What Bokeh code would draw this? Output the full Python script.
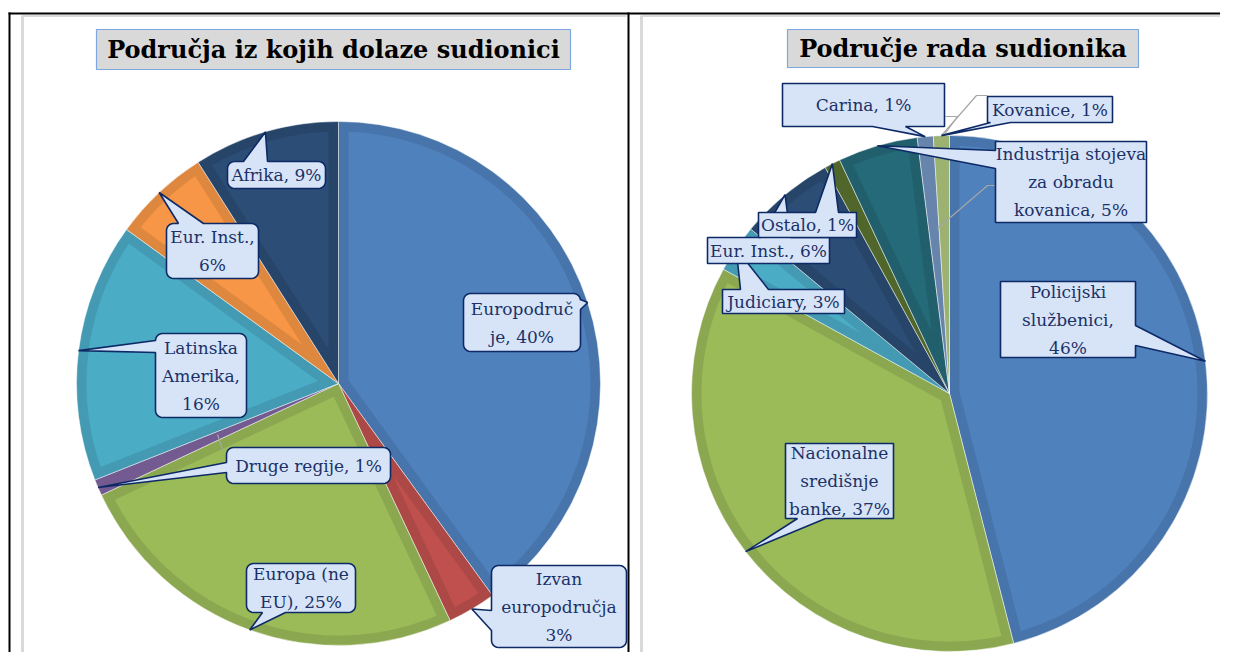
import numpy as np
from bokeh.plotting import figure
from bokeh.models import Range1d
from bokeh.core.properties import value
from bokeh.embed import file_html
from bokeh.resources import INLINE

# ---------------- data ----------------
left_title = "Područja iz kojih dolaze sudionici"
left_names = ["Europodručje", "Izvan europodručja", "Europa (ne EU)", "Druge regije",
              "Latinska Amerika", "Eur. Inst.", "Afrika"]
left_values = [40, 3, 25, 1, 16, 6, 9]
left_label_fmt = ["Europodruč\nje, {}%", "Izvan\neuropodručja\n{}%", "Europa (ne\nEU), {}%",
                  "Druge regije, {}%", "Latinska\nAmerika,\n{}%", "Eur. Inst.,\n{}%", "Afrika, {}%"]
left_colors = ["#4F81BD", "#C0504D", "#9BBB59", "#8064A2", "#4BACC6", "#F79646", "#2C4D75"]

right_title = "Područje rada sudionika"
right_names = ["Policijski službenici", "Nacionalne središnje banke", "Judiciary", "Eur. Inst.",
               "Ostalo", "Industrija stojeva za obradu kovanica", "Carina", "Kovanice"]
right_values = [46, 37, 3, 6, 1, 5, 1, 1]
right_label_fmt = ["Policijski\nslužbenici,\n{}%", "Nacionalne\nsredišnje\nbanke, {}%", "Judiciary, {}%",
                   "Eur. Inst., {}%", "Ostalo, {}%", "Industrija stojeva\nza obradu\nkovanica, {}%",
                   "Carina, {}%", "Kovanice, {}%"]
right_colors = ["#4F81BD", "#9BBB59", "#4BACC6", "#2C4D75", "#5A7230", "#256A78", "#7394C0", "#AEC67E"]

# ---------------- layout (canvas pixels, y down) ----------------
W, H = 1220, 652
def Y(py):
    return H - np.asarray(py, dtype=float)

left_pie = dict(cx=338, cy=383, R=262, d=10)
right_pie = dict(cx=949, cy=393, R=258, d=10)

# label boxes: x0, y0, x1, y1, pointer side, base start, base end
left_boxes = [(463, 293, 580, 351, "right", 299, 309),
              (491, 565, 626, 647, "left", 610, 630),
              (246, 563, 355, 612, "bottom", 262, 285),
              (226, 447, 390, 483, "left", 462, 472),
              (155, 333, 246, 417, "left", 340, 352),
              (166, 223, 258, 278, "top", 178, 203),
              (227, 161, 325, 188, "top", 243, 267)]
right_boxes = [(1000, 281, 1135, 357, "right", 325, 345),
               (785, 443, 893, 518, "bottom", 797, 825),
               (722, 289, 844, 313, "top", 740, 768),
               (707, 237, 829, 263, "top", 760, 790),
               (758, 212, 856, 237, "top", 815, 838),
               (995, 141, 1146, 222, "left", 150, 168),
               (782, 83, 944, 126, "bottom", 872, 905),
               (987, 96, 1112, 122, "bottom", 990, 1010)]

p = figure(width=W, height=H, x_range=Range1d(0, W), y_range=Range1d(0, H),
           output_backend="svg", toolbar_location=None, min_border=0,
           x_axis_location=None, y_axis_location=None)
p.grid.grid_line_color = None
p.outline_line_color = None
p.background_fill_color = "white"
p.border_fill_color = "white"

# ---------------- frame lines ----------------
p.line([8, W], Y([13, 13]), line_color="black", line_width=2)
p.line([9, 9], Y([12, H]), line_color="black", line_width=2)
p.line([628, 628], Y([12, H]), line_color="black", line_width=2)
p.line([22, 22], Y([15, H]), line_color="#D9D9D9", line_width=3)
p.line([22, 626], Y([15.5, 15.5]), line_color="#D9D9D9", line_width=2)
p.line([641, 641], Y([15, H]), line_color="#D9D9D9", line_width=3)
p.line([641, W], Y([15.5, 15.5]), line_color="#D9D9D9", line_width=2)


def darken(hx, f=0.9):
    r, g, b = int(hx[1:3], 16), int(hx[3:5], 16), int(hx[5:7], 16)
    return "#%02X%02X%02X" % (int(r * f), int(g * f), int(b * f))


def draw_pie(pie, values, colors):
    cx, cy, R, d = pie["cx"], pie["cy"], pie["R"], pie["d"]
    vals = np.asarray(values, dtype=float)
    ends = np.cumsum(vals) / vals.sum() * 360.0
    starts = ends - vals / vals.sum() * 360.0
    # outer (bevel) wedges
    p.wedge(x=[cx] * len(vals), y=[float(Y(cy))] * len(vals), radius=R,
            start_angle=np.radians(90 - starts), end_angle=np.radians(90 - ends),
            direction="clock", fill_color=[darken(c) for c in colors],
            line_color="white", line_alpha=0.6, line_width=0.8)
    # inner lighter faces
    xs, ys, cols = [], [], []
    for a0, a1, c in zip(starts, ends, colors):
        h = np.radians((a1 - a0) / 2)
        s = d / np.sin(h)
        if s > R - 3 * d:
            continue
        mid = np.radians((a0 + a1) / 2)
        delta = np.arcsin(d / (R - d))
        th = np.linspace(np.radians(a0) + delta, np.radians(a1) - delta, 80)
        px = [cx + s * np.sin(mid)] + list(cx + (R - d) * np.sin(th))
        py = [cy - s * np.cos(mid)] + list(cy - (R - d) * np.cos(th))
        xs.append(px)
        ys.append(list(Y(py)))
        cols.append(c)
    p.patches(xs, ys, fill_color=cols, line_color=None)
    mids = np.radians((starts + ends) / 2)
    tips = [(cx + R * np.sin(m), cy - R * np.cos(m)) for m in mids]
    return tips


def callout_path(box, tip, r):
    x0, y0, x1, y1, side, b0, b1 = box
    pts = []

    def corner(ccx, ccy, a0, a1):
        if r <= 0:
            pts.append((ccx, ccy))
            return
        for t in np.linspace(a0, a1, 7):
            pts.append((ccx + r * np.cos(t), ccy + r * np.sin(t)))

    rr = max(r, 0)
    corner(x0 + rr, y0 + rr, np.pi, 1.5 * np.pi)
    if side == "top":
        pts += [(b0, y0), tip, (b1, y0)]
    corner(x1 - rr, y0 + rr, 1.5 * np.pi, 2 * np.pi)
    if side == "right":
        pts += [(x1, b0), tip, (x1, b1)]
    corner(x1 - rr, y1 - rr, 0, 0.5 * np.pi)
    if side == "bottom":
        pts += [(b1, y1), tip, (b0, y1)]
    corner(x0 + rr, y1 - rr, 0.5 * np.pi, np.pi)
    if side == "left":
        pts += [(x0, b1), tip, (x0, b0)]
    return [q[0] for q in pts], list(Y([q[1] for q in pts]))


LABEL_FONT = value("DejaVu Serif")


def draw_labels(boxes, tips, fmts, values, r):
    for box, tip, fmt, v in zip(boxes, tips, fmts, values):
        xs, ys = callout_path(box, tip, r)
        p.patch(xs, ys, fill_color="#D7E4F8", line_color="#0E2A66", line_width=1.6)
        x0, y0, x1, y1 = box[:4]
        p.text(x=[(x0 + x1) / 2], y=[float(Y((y0 + y1) / 2))], text=[fmt.format(v)],
               text_font=LABEL_FONT, text_font_size="17px", text_color="#1B3167",
               text_align="center", text_baseline="middle", text_line_height=1.4)


def draw_title(box, txt):
    x0, y0, x1, y1 = box
    p.quad(left=[x0], right=[x1], top=[float(Y(y0))], bottom=[float(Y(y1))],
           fill_color="#D9D9D9", line_color="#7EA6E0", line_width=1.2)
    p.text(x=[(x0 + x1) / 2], y=[float(Y((y0 + y1) / 2))], text=[txt],
           text_font=value("DejaVu Serif"), text_font_style="bold", text_font_size="24px",
           text_color="black", text_align="center", text_baseline="middle")


draw_title((96, 29, 570, 69), left_title)
draw_title((787, 29, 1138, 67), right_title)

ltips = draw_pie(left_pie, left_values, left_colors)
rtips = draw_pie(right_pie, right_values, right_colors)

# leader lines (grey)
p.line([217, 222], Y([434, 449]), line_color="#A6A6A6", line_width=1.2)
p.line([937, 987, 997], Y([228, 185, 185]), line_color="#A6A6A6", line_width=1.2)
p.line([941, 976, 987], Y([135, 95, 95]), line_color="#A6A6A6", line_width=1.2)
p.line([945, 957, 944], Y([116, 116, 134]), line_color="#A6A6A6", line_width=1.2)

draw_labels(left_boxes, ltips, left_label_fmt, left_values, 7)
draw_labels(right_boxes, rtips, right_label_fmt, right_values, 0)

open("out.html", "w").write(file_html(p, INLINE))
